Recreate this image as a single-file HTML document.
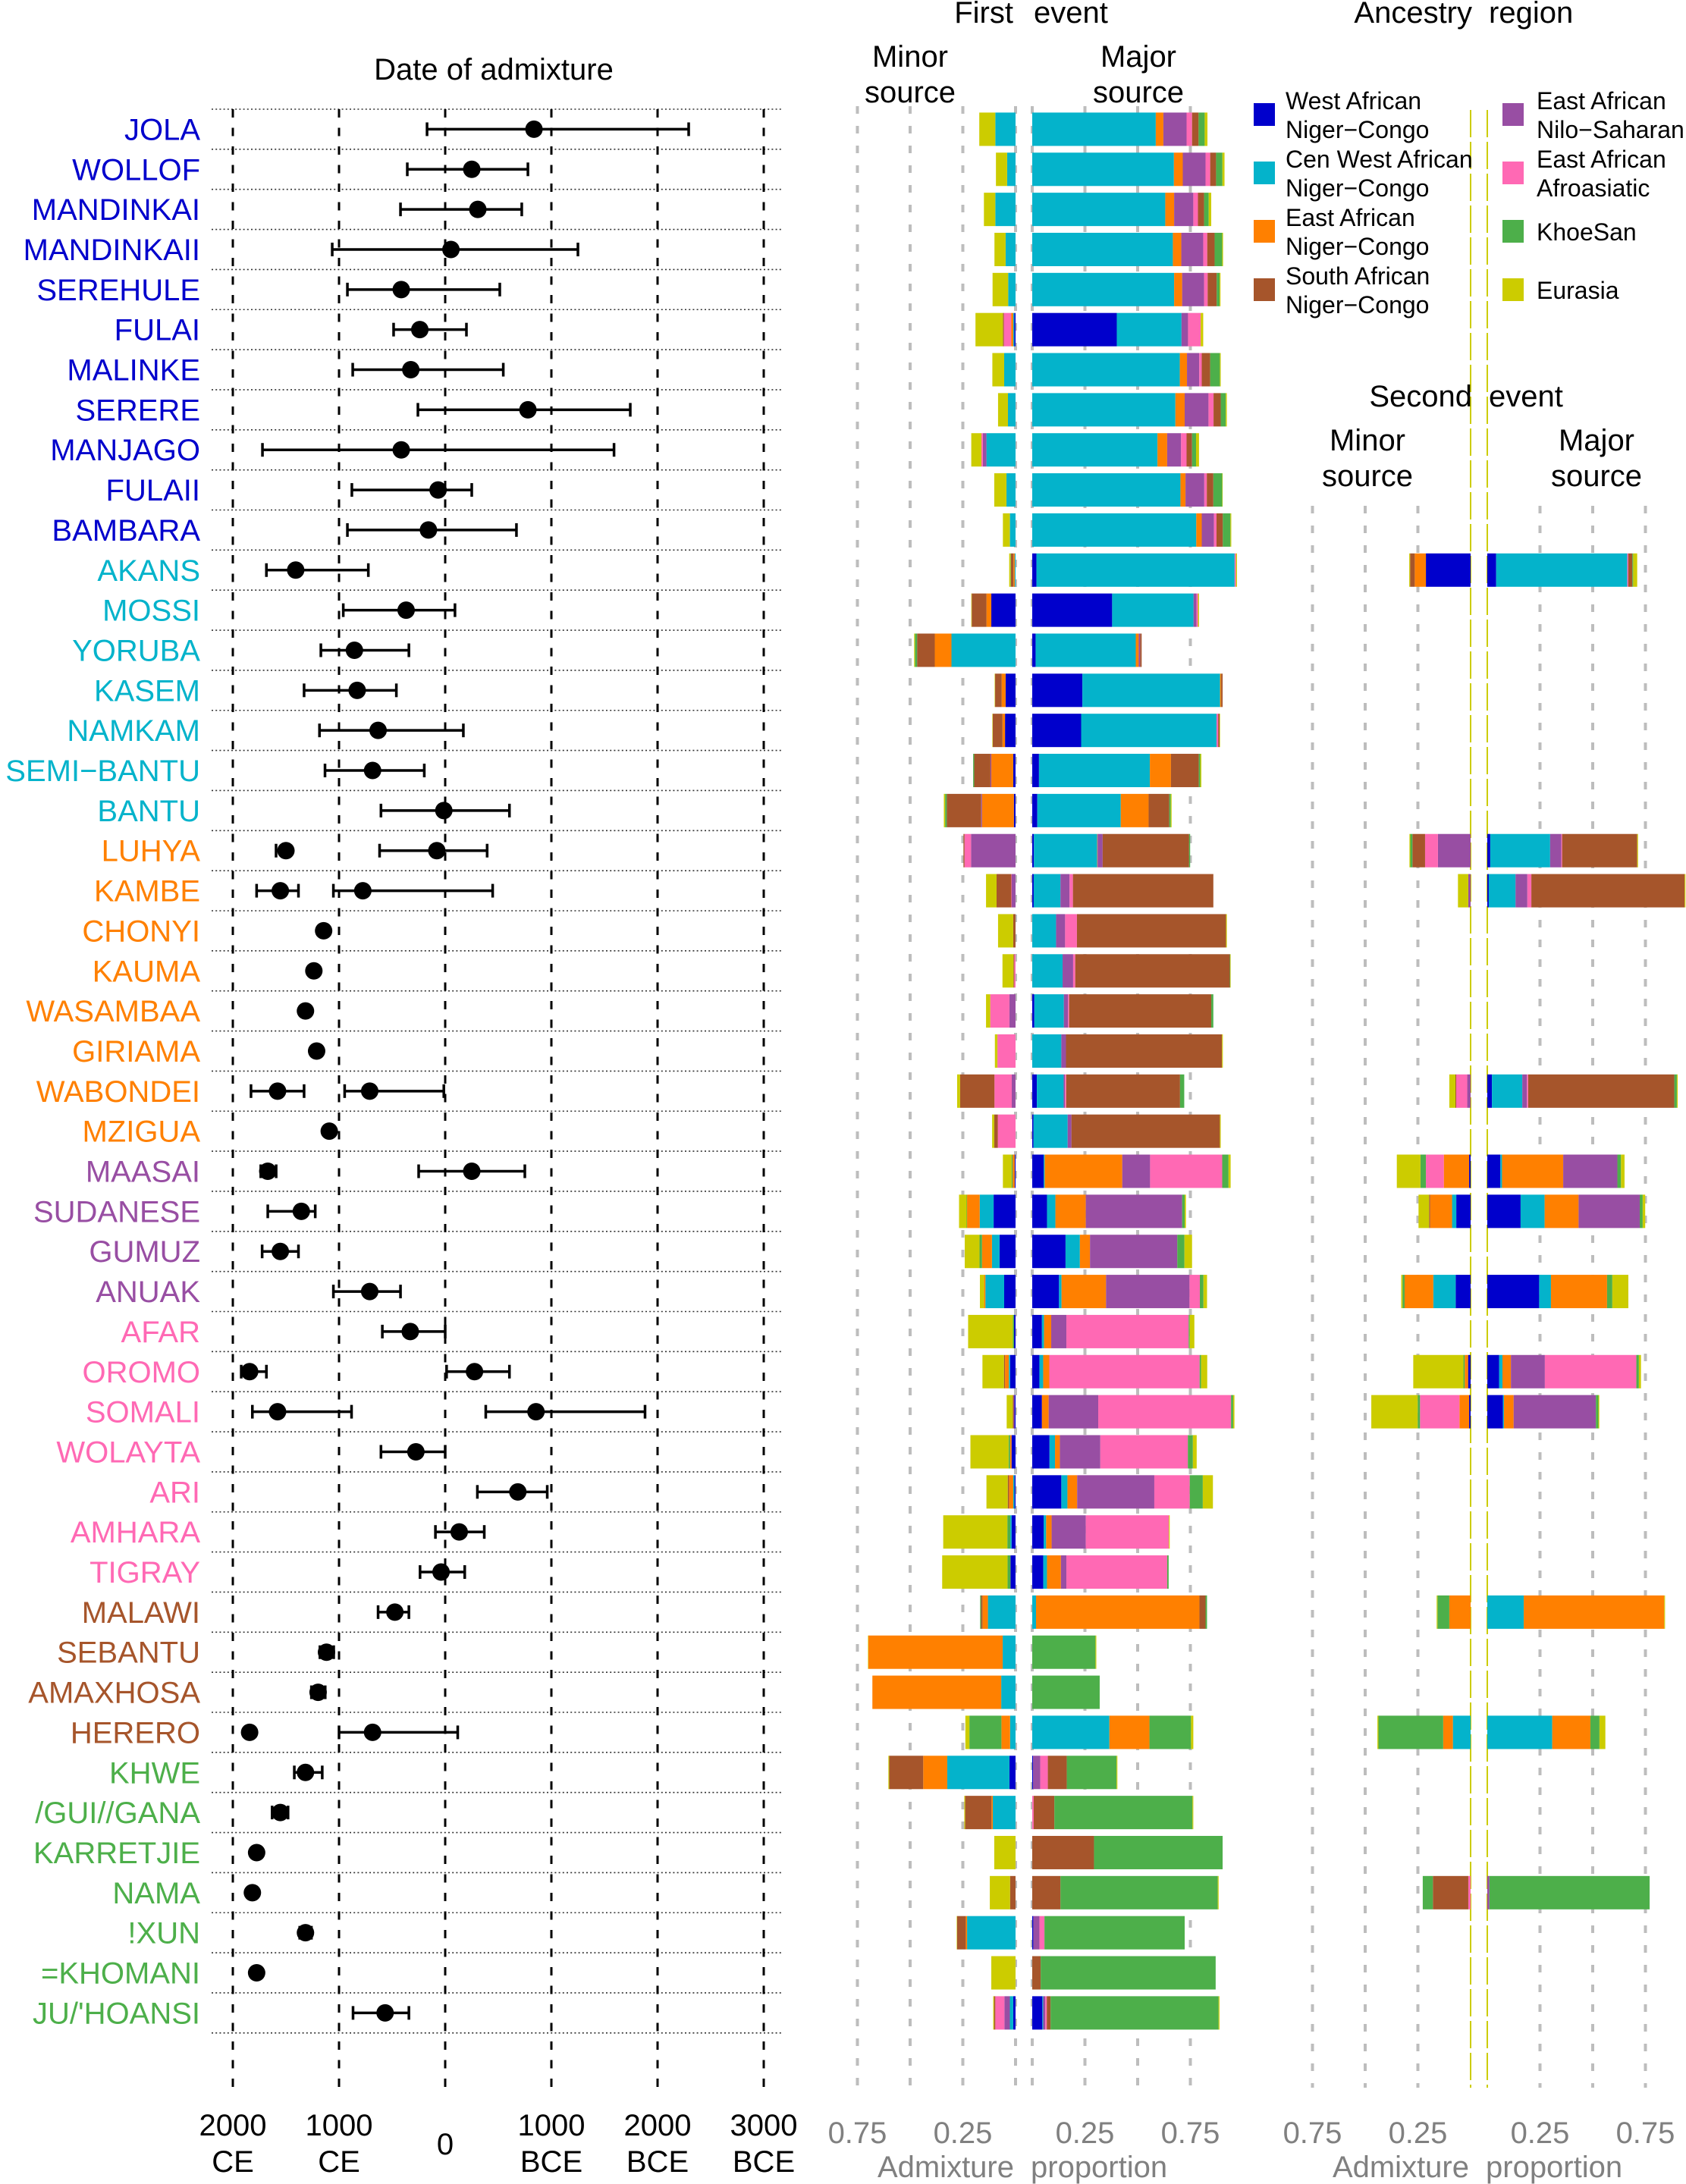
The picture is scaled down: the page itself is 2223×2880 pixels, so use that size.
<!DOCTYPE html>
<html><head><meta charset="utf-8"><title>Admixture dates and proportions</title>
<style>
html,body{margin:0;padding:0;background:#fff;}
svg{display:block;font-family:"Liberation Sans",Arial,sans-serif;}
</style></head>
<body>
<svg id="chart" width="2223" height="2880" viewBox="0 0 2223 2880" xmlns="http://www.w3.org/2000/svg">
<g id="grid"></g>
<g id="bars"></g>
<g id="dates"></g>
<g id="labels"></g>
<g id="texts"></g>
</svg>
<script>
// ---------- DATA ----------
const populations = ["JOLA","WOLLOF","MANDINKAI","MANDINKAII","SEREHULE","FULAI","MALINKE","SERERE","MANJAGO","FULAII","BAMBARA","AKANS","MOSSI","YORUBA","KASEM","NAMKAM","SEMI\u2212BANTU","BANTU","LUHYA","KAMBE","CHONYI","KAUMA","WASAMBAA","GIRIAMA","WABONDEI","MZIGUA","MAASAI","SUDANESE","GUMUZ","ANUAK","AFAR","OROMO","SOMALI","WOLAYTA","ARI","AMHARA","TIGRAY","MALAWI","SEBANTU","AMAXHOSA","HERERO","KHWE","/GUI//GANA","KARRETJIE","NAMA","!XUN","=KHOMANI","JU/'HOANSI"];
const popRegion = [0,0,0,0,0,0,0,0,0,0,0,1,1,1,1,1,1,1,2,2,2,2,2,2,2,2,3,3,3,3,4,4,4,4,4,4,4,5,5,5,5,6,6,6,6,6,6,6];
const ancestryNames = ["West African Niger\u2212Congo","Cen West African Niger\u2212Congo","East African Niger\u2212Congo","East African Nilo\u2212Saharan","East African Afroasiatic","South African Niger\u2212Congo","KhoeSan","Eurasia"];
const ancestryColors = ["#0000CC","#04B3CB","#FF8000","#984EA3","#FF69B4","#A6552B","#4DAF4A","#CCCC00"];
const labelColors = ["#0000CC","#04B3CB","#FF8000","#984EA3","#FF69B4","#A6552B","#4DAF4A"];
// dates in years (negative = CE, positive = BCE)
const dateA   = [836,250,307,54,-414,-239,-324,779,-414,-67,-158,-1408,-368,-855,-829,-632,-684,-13,-1500,-1553,-1145,-1237,-1316,-1211,-1579,-1092,-1671,-1355,-1553,-711,-329,-1842,-1579,-276,684,132,-39,-474,-1118,-1197,-1842,-1316,-1553,-1776,-1816,-1316,-1776,-566];
const dateALo = [-171,-357,-421,-1064,-921,-486,-871,-257,-1721,-879,-921,-1684,-960,-1171,-1329,-1184,-1132,-605,-1593,-1776,-1150,-1240,-1320,-1215,-1829,-1095,-1737,-1671,-1724,-1053,-592,-1921,-1816,-605,303,-92,-237,-632,-1180,-1260,-1870,-1421,-1630,-1780,-1820,-1370,-1780,-868];
const dateAHi = [2293,779,721,1250,514,200,547,1743,1590,250,671,-724,92,-342,-460,171,-197,605,-1470,-1382,-1140,-1234,-1312,-1207,-1329,-1089,-1592,-1224,-1382,-421,0,-1684,-882,0,961,368,184,-342,-1050,-1130,-1815,-1158,-1480,-1772,-1812,-1260,-1772,-342];
const dateB   = [null,null,null,null,null,null,null,null,null,null,null,null,null,null,null,null,null,null,-79,-776,null,null,null,null,-711,null,250,null,null,null,null,276,855,null,null,null,null,null,null,null,-684,null,null,null,null,null,null,null];
const dateBLo = [null,null,null,null,null,null,null,null,null,null,null,null,null,null,null,null,null,null,-618,-1053,null,null,null,null,-947,null,-250,null,null,null,null,13,382,null,null,null,null,null,null,null,-1000,null,null,null,null,null,null,null];
const dateBHi = [null,null,null,null,null,null,null,null,null,null,null,null,null,null,null,null,null,null,395,447,null,null,null,null,-13,null,750,null,null,null,null,605,1882,null,null,null,null,null,null,null,118,null,null,null,null,null,null,null];
const dateTicks = [-2000,-1000,0,1000,2000,3000];
const dateTickTop = ["2000","1000","0","1000","2000","3000"];
const dateTickBottom = ["CE","CE","","BCE","BCE","BCE"];
// ancestry proportions (%) [blue,cyan,orange,purple,pink,brown,green,yellow]
const firstMinor = [
[0,9.6,0,0,0,0,0,7.6],[0,4.0,0,0,0,0,0,5.3],[0,9.6,0,0,0,0,0,5.4],[0,4.7,0,0,0,0,0,5.3],[0,3.5,0,0,0,0,0,7.4],
[0.6,0.5,1.0,0,3.4,0.5,0,13.0],[0,5.4,0,0,0,0,0,5.6],[0,3.6,0,0,0,0,0,4.7],[0,13.8,0,1.7,0.7,0,0,4.8],[0,4.3,0,0,0,0,0,5.8],
[0,2.6,0,0,0,0,0.2,3.2],[0,0.4,0.6,0,0,1.2,0.2,0.6],[11.5,0,2.3,0,0,7.0,0,0.2],[0,30.4,7.9,0,0,8.4,1.0,0.4],[4.7,0,1.9,0,0,3.1,0,0.2],
[5.0,0,1.2,0,0,4.6,0,0.2],[1.1,0,10.4,0.4,0,7.7,0.5,0],[0.8,0,15.1,0.4,0,16.3,0.8,0.6],[0,0,0,21.1,3.1,0.5,0,0],[0,0,0,1.8,0.2,7.0,0,5.0],
[0,0,0,0,0,1.1,0,7.2],[0,0,0,0,0.6,0.4,0,5.2],[0,0,0,2.9,9.1,0,0,2.0],[0,0,0,0,8.6,0,0,1.2],[0,0,0,1.8,8.2,16.3,0,1.4],
[0,0,0,0,8.4,1.7,0,1.0],[0.4,0,1.0,0,0,0,0.5,4.1],[10.4,6.6,6.0,0,0,0,0.2,3.6],[7.6,3.6,4.7,0,0,0,1.2,7.0],[5.4,8.9,0.6,0,0,0,0,2.0],
[0.7,0,0,0,0,0,0.6,21.2],[2.6,0.6,1.8,0,0,0.5,0,10.2],[0.5,0,0,0.4,0,0.4,0,2.9],[1.9,0,0.7,0,0,0,0.7,18.1],[0.5,0.6,2.0,0,0,0.6,0,10.1],
[1.9,0.6,0,0,0,0,1.4,30.4],[2.4,0,0,0,0,0,1.4,31.0],[0,13.1,2.6,0,0,0.7,0.4,0],[0,6.1,63.7,0,0,0,0,0.2],[0,6.8,61.1,0,0,0,0,0],
[0,2.6,4.1,0,0,0,15.2,1.9],[2.9,29.5,11.4,0,0,16.1,0,0.4],[0,10.8,0.6,0,0,12.5,0,0.4],[0,0,0,0,0,0,0,10.1],[0,0,0,0,0,2.6,0,9.6],
[0,23.0,0.6,0,0,4.1,0,0.2],[0,0,0,0,0,0,0,11.5],[1.1,1.6,0,2.6,4.3,0.6,0,0.4]];
const firstMajor = [
[0,58.6,3.6,11.0,2.6,3.1,2.9,1.3],[0,67.2,4.2,10.8,2.2,2.8,3.0,1.0],[0,63.1,4.2,9.1,2.2,2.9,2.2,1.2],[0,66.7,4.0,10.4,1.9,3.5,3.6,0.4],[0,67.3,3.8,10.4,1.7,4.3,1.4,0.4],
[40.1,30.7,0,3.1,6.0,0,0,1.2],[0,70.0,3.4,5.8,1.2,4.0,4.6,0.4],[0,67.9,4.4,11.3,2.4,3.4,2.4,0.5],[0,59.4,4.6,6.6,2.6,2.6,1.9,1.4],[0,70.3,2.4,8.9,1.2,3.1,4.2,0.2],
[0,77.8,2.6,5.8,1.2,3.0,3.6,0.4],[2.0,94.0,0,0,0.6,0,0,0.5],[37.9,38.6,0,1.4,0.7,0,0,0.5],[1.6,47.5,1.4,0.7,0,0.7,0,0],[23.8,65.3,0.5,0,0,0.7,0,0],
[23.2,64.2,0,0,0.8,0.7,0,0.2],[3.2,52.6,10.0,0,0,13.2,0.7,0.5],[2.4,39.6,13.2,0,0,9.8,0.7,0.4],[0.8,30.0,0.2,2.4,0,41.0,0.5,0],[0.7,12.7,0,4.3,1.6,66.6,0,0],
[0,11.3,0,4.3,5.6,70.7,0,0.4],[0,14.4,0,5.0,1.0,73.3,0.2,0.2],[1.0,14.0,0,2.0,0.5,67.4,1.0,0],[0,13.8,0,2.2,0,74.0,0,0.4],[2.2,12.7,0,0.6,0.6,54.0,2.0,0],
[0.6,16.2,0,1.8,0,70.4,0,0.4],[5.4,0.5,36.8,13.2,34.2,0,3.0,1.0],[7.0,4.0,14.4,45.7,0,0,1.2,0.6],[15.8,6.8,4.8,41.4,0,0,3.4,3.6],[12.7,1.2,21.1,39.6,4.9,0,1.7,1.7],
[4.6,1.0,3.4,7.2,58.0,0,0.5,2.2],[3.4,1.8,2.9,0,71.3,0,0.7,2.9],[4.6,0,3.2,23.5,63.0,0,1.0,0.6],[8.2,2.6,2.3,19.2,41.5,0,2.4,1.8],[13.8,2.9,4.6,36.6,16.8,0,6.2,4.8],
[5.4,1.2,2.6,16.2,39.4,0,0,0.4],[5.2,1.8,6.6,2.6,47.8,0,0.7,0],[0,1.8,77.5,0,0,2.9,0.7,0],[0,0,0,0,0,0,30.0,0.4],[0,0,0,0,0,0,32.0,0],
[0,36.6,19.0,0,0,0,19.7,1.1],[0.4,0,0,3.4,3.6,9.0,23.6,0.4],[0,0,0,0,0.7,9.8,65.5,0.4],[0,0,0,0,0,29.3,61.0,0],[0,0,0,0,0,13.4,74.6,0.4],
[0.5,0,0,2.9,2.4,0,66.5,0],[0,0,0,0,0,4.0,83.0,0],[4.8,0.4,0,1.0,0.7,1.8,79.7,0.4]];
const secondRows = ["AKANS","LUHYA","KAMBE","WABONDEI","MAASAI","SUDANESE","ANUAK","OROMO","SOMALI","MALAWI","HERERO","NAMA"];
const secondMinor = [[21.2,0,5.3,0,0,2.2,0,0.4],[0,0,0,15.5,6.1,6.0,1.0,0.4],[0,0,0,1.1,0,0,0,4.9],[0,0,0,1.6,5.2,0.4,0,2.9],[0.7,0,12.0,0,8.5,0,2.6,11.2],[6.8,2.0,10.4,0,0,0.5,0,5.0],[7.1,10.6,13.6,0,0,0,1.0,0.6],[1.2,0,1.6,0,0,0,0.6,23.8],[0.7,0,4.6,0,18.7,0,1.1,22.0],[0,0,10.1,0,0,0,5.6,0.4],[0,8.4,4.6,0,0,0,30.7,0.5],[0,0,0,0,1.1,16.8,4.8,0]];
const secondMajor = [[4.2,62.2,0,0,0.5,1.9,0.4,1.9],[1.4,28.4,0,5.3,0.4,35.6,0,0.4],[0.7,12.7,0,5.6,1.9,72.7,0,0.4],[2.2,14.4,0,2.2,0.6,69.3,1.2,0.4],[6.2,0.8,29.0,25.7,0,0,1.7,1.7],[15.8,11.4,16.1,29.0,0,0,1.4,1.2],[24.6,5.6,26.6,0,0,0,2.5,7.6],[5.6,1.6,4.0,16.1,43.4,0,1.2,1.0],[7.4,0.5,4.6,39.0,0,0,1.2,0.4],[0,17.3,66.6,0,0,0,0,0.4],[0,30.8,18.1,0,0,0,4.3,2.8],[0,0,0,1.0,0,0,76.0,0]];
const propTicks = [0.75,0.5,0.25,0];
const propTickLabels = ["0.75","0.25"];

// ---------- LAYOUT ----------
const NS = "http://www.w3.org/2000/svg";
const ROW_TOP = 144, ROW_H = 52.85, BAR_H = 44;
const rowY = i => ROW_TOP + (i + 0.5) * ROW_H;
const xDate = v => 587 + 0.14 * v;
const UNIT = 278;
const panels = [{minor0:1339, major0:1361, top:140},{minor0:1939, major0:1961, top:667}];
const BOTTOM = 2753;
function mk(tag, attrs, parent){const e=document.createElementNS(NS,tag);for(const k in attrs)e.setAttribute(k,attrs[k]);parent.appendChild(e);return e;}
const gGrid=document.getElementById('grid'), gBars=document.getElementById('bars'), gDates=document.getElementById('dates'), gLabels=document.getElementById('labels'), gText=document.getElementById('texts');

for(let k=0;k<=populations.length;k++){
  const y=ROW_TOP+k*ROW_H;
  const l=mk('line',{x1:279,x2:1033,y1:y,y2:y,stroke:'#333','stroke-width':1.6,'stroke-dasharray':'2 3.2'},gGrid);
  
  
}
dateTicks.forEach(v=>{
  const l=mk('line',{x1:xDate(v),x2:xDate(v),y1:ROW_TOP,y2:BOTTOM,stroke:'#000','stroke-width':3,'stroke-dasharray':'11 13.5'},gGrid);
  
  
});
panels.forEach((p,pi)=>{
  propTicks.forEach(t=>{
    [p.minor0-t*UNIT, p.major0+t*UNIT].forEach((x,si)=>{
      const zero = t===0 && pi===1;
      const l=mk('line',{x1:x,x2:x,y1:zero?145:p.top,y2:BOTTOM,stroke:zero?'#CCCC00':'#BDBDBD','stroke-width':zero?2:4,'stroke-dasharray':zero?'36 6':'10 16'},gGrid);
      
      
    });
  });
});

function drawBar(vals, x0, dir, y, name){
  let acc=0;
  vals.forEach((v,ci)=>{
    if(v<=0)return;
    const w=v/100*UNIT;
    const x = dir>0 ? x0+acc : x0-acc-w;
    const r=mk('rect',{x:x,y:y-BAR_H/2,width:w,height:BAR_H,fill:ancestryColors[ci]},gBars);
    
    
    acc+=w;
  });
}
populations.forEach((p,i)=>{
  drawBar(firstMinor[i],panels[0].minor0,-1,rowY(i),'first-minor');
  drawBar(firstMajor[i],panels[0].major0,1,rowY(i),'first-major');
});
secondRows.forEach((p,j)=>{
  const i=populations.indexOf(p);
  drawBar(secondMinor[j],panels[1].minor0,-1,rowY(i),'second-minor');
  drawBar(secondMajor[j],panels[1].major0,1,rowY(i),'second-major');
});

function drawDate(v,lo,hi,y){
  const a=mk('line',{x1:xDate(lo),x2:xDate(hi),y1:y,y2:y,stroke:'#000','stroke-width':3.5},gDates);
  
  
  [lo,hi].forEach(e=>{
    const c=mk('line',{x1:xDate(e),x2:xDate(e),y1:y-9,y2:y+9,stroke:'#000','stroke-width':3.5},gDates);
    
    
  });
  const pt=mk('circle',{cx:xDate(v),cy:y,r:11.5,fill:'#000'},gDates);
  
  
}
populations.forEach((p,i)=>{
  drawDate(dateA[i],dateALo[i],dateAHi[i],rowY(i));
  if(dateB[i]!==null) drawDate(dateB[i],dateBLo[i],dateBHi[i],rowY(i));
  const t=mk('text',{x:264,y:rowY(i)+14,'text-anchor':'end','font-size':40,fill:labelColors[popRegion[i]]},gLabels);
  t.textContent=p;
  
  
});

function txt(s,x,y,opts,name){
  const t=mk('text',Object.assign({x:x,y:y,'font-size':40,fill:'#000','text-anchor':'middle'},opts||{}),gText);
  t.textContent=s;
  
  
  return t;
}
txt('Date of admixture',651,105,{},'date-panel-title');
txt('First',1336,30,{'text-anchor':'end'},'first-event-title');
txt('event',1363,30,{'text-anchor':'start'},'first-event-title');
txt('Minor',1200,88,{},'first-minor-title');
txt('source',1200,135,{},'first-minor-title');
txt('Major',1501,88,{},'first-major-title');
txt('source',1501,135,{},'first-major-title');
txt('Ancestry',1941,30,{'text-anchor':'end'},'legend-title');
txt('region',1963,30,{'text-anchor':'start'},'legend-title');
txt('Second',1941,536,{'text-anchor':'end'},'second-event-title');
txt('event',1963,536,{'text-anchor':'start'},'second-event-title');
txt('Minor',1803,594,{},'second-minor-title');
txt('source',1803,641,{},'second-minor-title');
txt('Major',2105,594,{},'second-major-title');
txt('source',2105,641,{},'second-major-title');

dateTicks.forEach((v,k)=>{
  if(dateTickBottom[k]===''){ txt(dateTickTop[k],xDate(v),2841,{},'date-tick-label'); }
  else { txt(dateTickTop[k],xDate(v),2816,{},'date-tick-label'); txt(dateTickBottom[k],xDate(v),2864,{},'date-tick-label'); }
});
panels.forEach((p,pi)=>{
  [0.75,0.25].forEach((t,k)=>{
    txt(propTickLabels[k],p.minor0-t*UNIT,2826,{fill:'#808080'},'proportion-tick-label');
    txt(propTickLabels[k],p.major0+t*UNIT,2826,{fill:'#808080'},'proportion-tick-label');
  });
  txt('Admixture',p.minor0-2,2871,{fill:'#808080','text-anchor':'end'},'proportion-axis-title');
  txt('proportion',p.major0-2,2871,{fill:'#808080','text-anchor':'start'},'proportion-axis-title');
});

// legend: col 0 = West, CenWest, East NC, South NC ; col 1 = Nilo-Saharan, Afroasiatic, KhoeSan, Eurasia
const legendCol=[0,0,0,1,1,0,1,1];
const legendRow=[0,1,2,0,1,3,2,3];
ancestryNames.forEach((n,k)=>{
  const sx = legendCol[k]===0 ? 1653 : 1981;
  const tx = legendCol[k]===0 ? 1695 : 2026;
  const cy = 151 + legendRow[k]*77;
  const r=mk('rect',{x:sx,y:cy-15,width:28,height:30,fill:ancestryColors[k]},gText);
  
  
  const parts = (n==='KhoeSan'||n==='Eurasia') ? [n] : [n.split(' ').slice(0,-1).join(' '), n.split(' ').slice(-1)[0]];
  if(parts.length===1){ txt(parts[0],tx,cy+12,{'text-anchor':'start','font-size':32},'legend-entry'); }
  else { txt(parts[0],tx,cy-7,{'text-anchor':'start','font-size':32},'legend-entry'); txt(parts[1],tx,cy+31,{'text-anchor':'start','font-size':32},'legend-entry'); }
});
</script>
</body></html>
